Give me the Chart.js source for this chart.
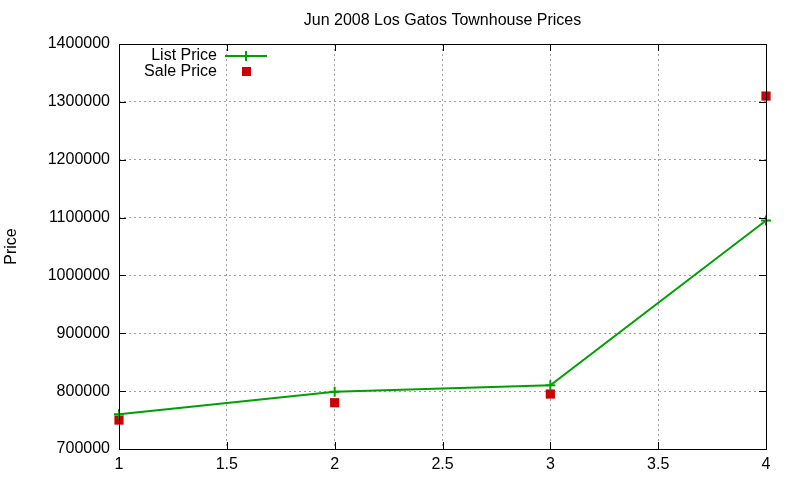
<!DOCTYPE html>
<html>
<head>
<meta charset="utf-8">
<script src="https://cdn.jsdelivr.net/npm/chart.js@4/dist/chart.umd.min.js"></script>
<style>
  html, body { margin: 0; padding: 0; background: #fff; }
  #wrap { width: 800px; height: 480px; }
</style>
</head>
<body>
<div id="wrap"><canvas id="chart" width="800" height="480"></canvas></div>
<script>
// Jun 2008 Los Gatos townhouse prices
const months = [1, 2, 3, 4];
const listPrice = [760000, 799000, 810000, 1095000];
const salePrice = [750000, 780000, 795000, 1310000];
const titleText = 'Jun 2008 Los Gatos Townhouse Prices';
const yLabel = 'Price';
const seriesNames = ['List Price', 'Sale Price'];

const FONT = '"Liberation Sans", Arial, sans-serif';
const GREEN = '#00a000';
const RED = '#cc0000';

// title, axis label, inward ticks, frame and the key drawn gnuplot-style
const gnuplotBits = {
    id: 'gnuplotBits',
    afterDraw(chart) {
        const ctx = chart.ctx;
        const a = chart.chartArea;
        const xs = chart.scales.x, ys = chart.scales.y;
        ctx.save();

        ctx.strokeStyle = '#000';
        ctx.lineWidth = 1;
        ctx.beginPath();
        ys.ticks.forEach(t => {
            const py = Math.round(ys.getPixelForValue(t.value)) + 0.5;
            ctx.moveTo(a.left, py); ctx.lineTo(a.left + 7, py);
            ctx.moveTo(a.right, py); ctx.lineTo(a.right - 7, py);
        });
        xs.ticks.forEach(t => {
            const px = Math.round(xs.getPixelForValue(t.value)) + 0.5;
            ctx.moveTo(px, a.bottom); ctx.lineTo(px, a.bottom - 7);
            ctx.moveTo(px, a.top); ctx.lineTo(px, a.top + 7);
        });
        ctx.stroke();
        ctx.strokeRect(Math.round(a.left) + 0.5, Math.round(a.top) + 0.5,
            Math.round(a.right - a.left), Math.round(a.bottom - a.top));

        ctx.fillStyle = '#000';
        ctx.font = '16px ' + FONT;
        ctx.textAlign = 'center';
        ctx.textBaseline = 'middle';
        ctx.fillText(titleText, (a.left + a.right) / 2, 21);

        ctx.save();
        ctx.translate(12, (a.top + a.bottom) / 2);
        ctx.rotate(-Math.PI / 2);
        ctx.fillText(yLabel, 0, 0);
        ctx.restore();

        // key
        ctx.textAlign = 'right';
        ctx.fillText(seriesNames[0], 217, 56);
        ctx.fillText(seriesNames[1], 217, 72);
        ctx.strokeStyle = GREEN;
        ctx.lineWidth = 2;
        ctx.beginPath();
        ctx.moveTo(225, 56); ctx.lineTo(267, 56);
        ctx.moveTo(246, 51); ctx.lineTo(246, 61);
        ctx.stroke();
        ctx.fillStyle = RED;
        ctx.fillRect(242, 67, 9, 9);

        ctx.restore();
    }
};

const gridStyle = {
    color: '#a0a0a0',
    lineWidth: 1,
    tickLength: 0,
    drawTicks: false
};

new Chart(document.getElementById('chart'), {
    type: 'scatter',
    data: {
        datasets: [{
            label: seriesNames[0],
            data: months.map((m, i) => ({ x: m, y: listPrice[i] })),
            showLine: true,
            tension: 0,
            borderColor: GREEN,
            backgroundColor: GREEN,
            borderWidth: 2,
            pointStyle: 'cross',
            pointRadius: 5,
            pointBorderWidth: 2,
            clip: false
        }, {
            label: seriesNames[1],
            data: months.map((m, i) => ({ x: m, y: salePrice[i] })),
            showLine: false,
            borderColor: RED,
            backgroundColor: RED,
            pointStyle: 'rect',
            pointRadius: 6.5,
            pointBorderWidth: 0,
            clip: false
        }]
    },
    options: {
        responsive: false,
        animation: false,
        devicePixelRatio: 1,
        layout: { padding: { top: 44, right: 34, left: 0, bottom: 0 } },
        plugins: {
            legend: { display: false },
            title: { display: false },
            tooltip: { enabled: false }
        },
        scales: {
            x: {
                type: 'linear',
                min: 1,
                max: 4,
                ticks: {
                    stepSize: 0.5,
                    color: '#000',
                    font: { family: FONT, size: 16 },
                    padding: 6,
                    maxRotation: 0,
                    callback: v => String(v)
                },
                grid: { ...gridStyle },
                border: { display: false, dash: [2, 3] },
                afterFit(s) { s.height = 31; }
            },
            y: {
                min: 700000,
                max: 1400000,
                ticks: {
                    stepSize: 100000,
                    color: '#000',
                    font: { family: FONT, size: 16 },
                    padding: 9,
                    callback: v => String(v)
                },
                grid: { ...gridStyle },
                border: { display: false, dash: [2, 3] },
                afterFit(s) { s.width = 119; }
            }
        }
    },
    plugins: [gnuplotBits]
});
</script>
</body>
</html>
